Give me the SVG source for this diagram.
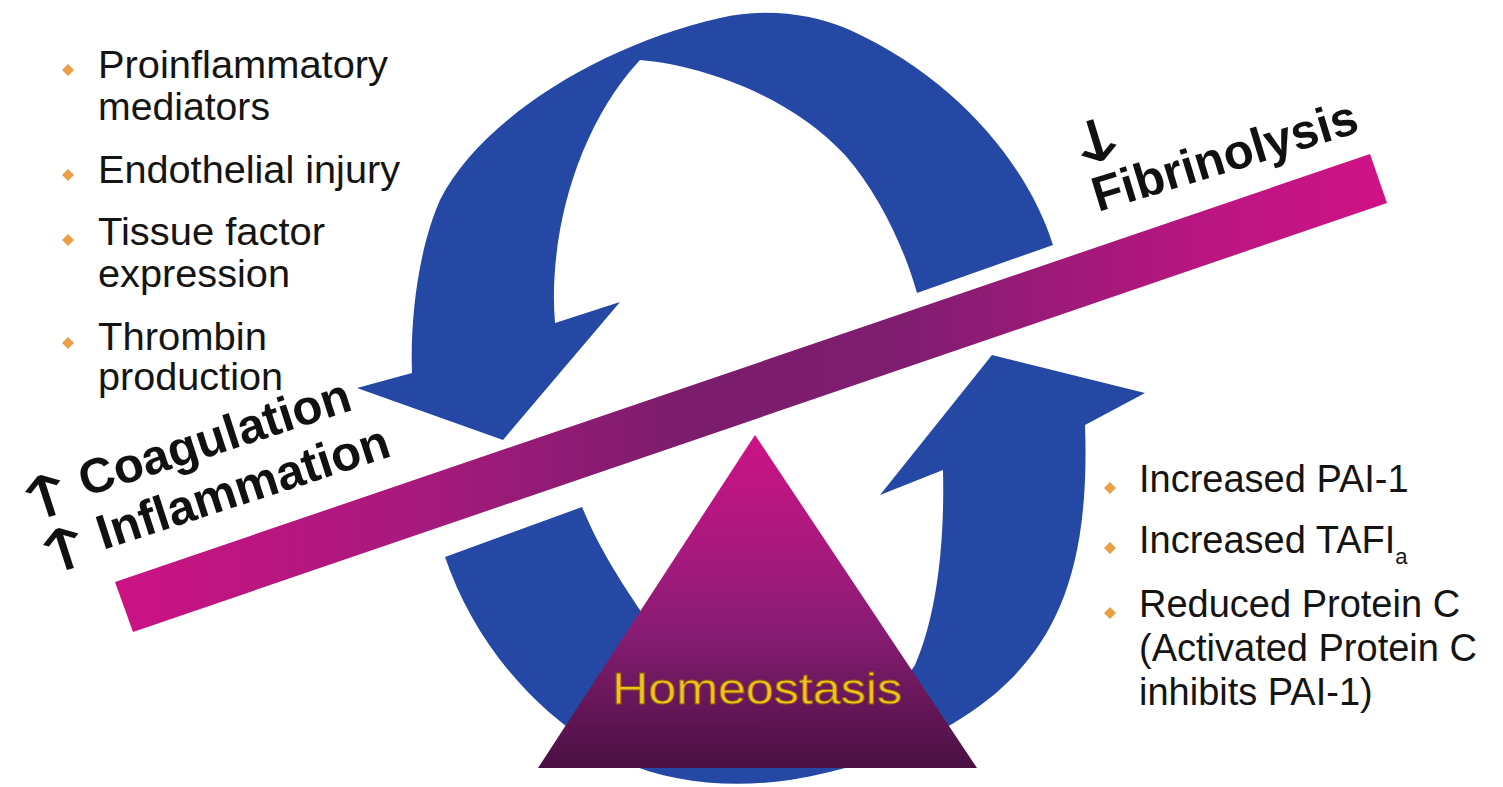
<svg xmlns="http://www.w3.org/2000/svg" width="1503" height="787" viewBox="0 0 1503 787">
  <defs>
    <linearGradient id="barGrad" gradientUnits="userSpaceOnUse" x1="115" y1="0" x2="1387" y2="0">
      <stop offset="0" stop-color="#cc1284"/>
      <stop offset="0.25" stop-color="#a51a7c"/>
      <stop offset="0.45" stop-color="#7b1c6c"/>
      <stop offset="0.62" stop-color="#801d70"/>
      <stop offset="0.85" stop-color="#b81680"/>
      <stop offset="1" stop-color="#cf1286"/>
    </linearGradient>
    <linearGradient id="triGrad" gradientUnits="userSpaceOnUse" x1="0" y1="435" x2="0" y2="768">
      <stop offset="0" stop-color="#cc1386"/>
      <stop offset="0.35" stop-color="#a8197e"/>
      <stop offset="0.6" stop-color="#861c72"/>
      <stop offset="0.82" stop-color="#641657"/>
      <stop offset="1" stop-color="#4a1042"/>
    </linearGradient>
    <style>
      .blue { fill: #2448a3; }
      .item { font-family: "Liberation Sans", Arial, sans-serif; font-size: 38px; fill: #141414; }
      .big { font-family: "Liberation Sans", Arial, sans-serif; font-size: 49px; font-weight: bold; fill: #111; }
      .arr { font-family: "DejaVu Sans", sans-serif; font-size: 58px; fill: #111; }
      .bullet { fill: #e9a047; }
    </style>
  </defs>
  <rect width="1503" height="787" fill="#ffffff"/>

  <g id="cycle-arrows">
    <path id="arrow-top" class="blue" d="M 1053,245 C 1030,170 960,80 850,30 C 810,12 760,8 720,18 C 600,45 480,120 440,200 C 418,250 410,320 412,373 L 357,388 L 503,440 L 620,302 L 555,323 C 548,240 575,130 640,60 C 700,65 790,95 845,155 C 880,195 905,250 917,293 Z"/>
    <path id="arrow-bottom" class="blue" d="M 445,557 C 470,630 520,700 600,750 C 650,780 720,790 790,780 C 880,765 960,730 1010,680 C 1060,630 1090,560 1085,425 L 1145,393 L 992,355 L 880,495 L 943,470 C 945,550 935,620 915,665 C 880,720 820,745 760,740 C 700,735 660,660 640,610 C 620,580 600,550 582,507 Z"/>
  </g>

  <g id="balance-bar">
    <polygon points="115,582 1370,154 1387,203 133,632" fill="url(#barGrad)"/>
  </g>

  <g id="homeostasis">
    <polygon points="755,435 977,768 538,768" fill="url(#triGrad)"/>
    <text x="612" y="704" font-family="'Liberation Sans', Arial, sans-serif" font-size="44" fill="#f2c31c" stroke="#8a5a10" stroke-width="0.8" textLength="290" lengthAdjust="spacingAndGlyphs">Homeostasis</text>
  </g>

  <g id="left-list">
    <polygon class="bullet" points="68,64 74,70 68,76 62,70"/>
    <polygon class="bullet" points="68,169 74,175 68,181 62,175"/>
    <polygon class="bullet" points="68,234 74,240 68,246 62,240"/>
    <polygon class="bullet" points="68,337 74,343 68,349 62,343"/>
    <text class="item" x="98" y="78" textLength="290" lengthAdjust="spacingAndGlyphs">Proinflammatory</text>
    <text class="item" x="98" y="120" textLength="172" lengthAdjust="spacingAndGlyphs">mediators</text>
    <text class="item" x="98" y="183" textLength="302" lengthAdjust="spacingAndGlyphs">Endothelial injury</text>
    <text class="item" x="98" y="245" textLength="227" lengthAdjust="spacingAndGlyphs">Tissue factor</text>
    <text class="item" x="98" y="287" textLength="192" lengthAdjust="spacingAndGlyphs">expression</text>
    <text class="item" x="98" y="350" textLength="169" lengthAdjust="spacingAndGlyphs">Thrombin</text>
    <text class="item" x="98" y="390" textLength="185" lengthAdjust="spacingAndGlyphs">production</text>
  </g>

  <g id="right-list">
    <polygon class="bullet" points="1110,482 1116,488 1110,494 1104,488"/>
    <polygon class="bullet" points="1110,542 1116,548 1110,554 1104,548"/>
    <polygon class="bullet" points="1110,607 1116,613 1110,619 1104,613"/>
    <text class="item" x="1139" y="492">Increased PAI-1</text>
    <text class="item" x="1139" y="553">Increased TAFI<tspan font-size="22" dy="11">a</tspan></text>
    <text class="item" x="1139" y="617">Reduced Protein C</text>
    <text class="item" x="1139" y="661">(Activated Protein C</text>
    <text class="item" x="1139" y="705">inhibits PAI-1)</text>
  </g>

  <g id="coagulation-label" transform="translate(85,497) rotate(-18)">
    <text class="arr" transform="translate(-37,8) scale(1.5,1)" text-anchor="middle">↑</text>
    <text class="big" x="0" y="0">Coagulation</text>
  </g>
  <g id="inflammation-label" transform="translate(103,550) rotate(-18)">
    <text class="arr" transform="translate(-37,8) scale(1.5,1)" text-anchor="middle">↑</text>
    <text class="big" x="0" y="0">Inflammation</text>
  </g>
  <g id="fibrinolysis-label" transform="translate(1098,212) rotate(-17)">
    <text class="arr" transform="translate(19,-48) scale(1.5,1)" text-anchor="middle">↓</text>
    <text class="big" x="0" y="0">Fibrinolysis</text>
  </g>
</svg>
